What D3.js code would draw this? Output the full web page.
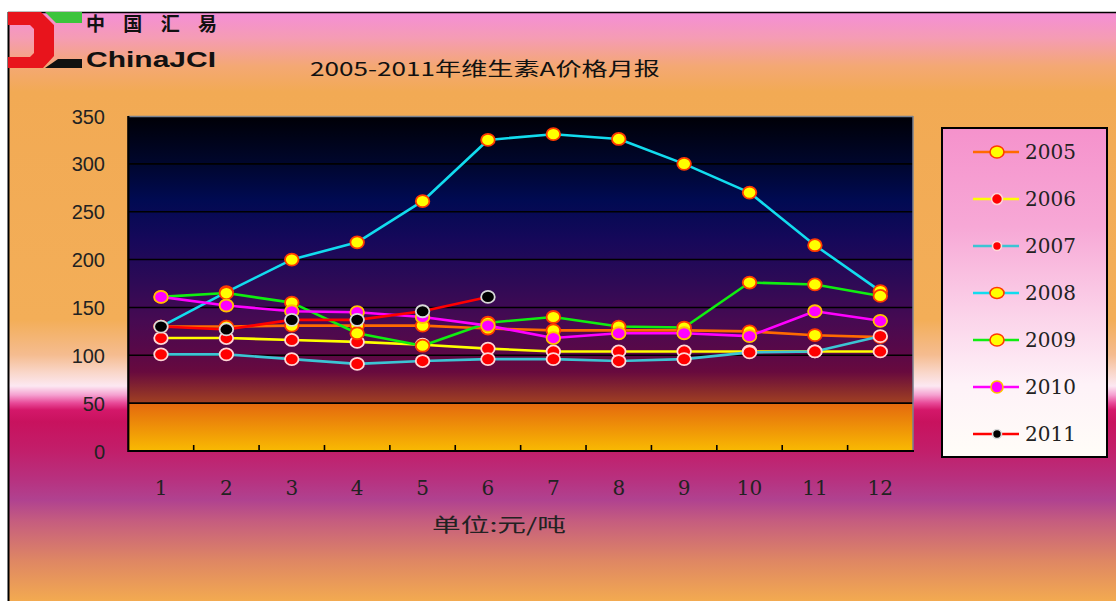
<!DOCTYPE html>
<html>
<head>
<meta charset="utf-8">
<script src="https://cdn.jsdelivr.net/npm/d3@7"></script>
<style>
  html, body { margin: 0; padding: 0; background: #fff; overflow: hidden; }
  svg { display: block; }
</style>
</head>
<body>
<svg id="chart" width="1116" height="601"></svg>
<script>
// Months on the x axis and value ticks on the y axis
const months = [1, 2, 3, 4, 5, 6, 7, 8, 9, 10, 11, 12];
const yTicks = [0, 50, 100, 150, 200, 250, 300, 350];
const years = ["2005", "2006", "2007", "2008", "2009", "2010", "2011"];

// Monthly vitamin A prices (元/吨 as labelled), one array per year
const price2005 = [130, 130, 131, 131, 131, 128, 126, 126, 126, 125, 121, 119];
const price2006 = [118, 118, 116, 114, 111, 107, 104, 104, 104, 104, 104, 104];
const price2007 = [101, 101, 96, 91, 94, 96, 96, 94, 96, 103, 104, 120];
const price2008 = [130, 166, 200, 218, 261, 325, 331, 326, 300, 270, 215, 167];
const price2009 = [161, 165, 155, 123, 110, 134, 140, 130, 129, 176, 174, 162];
const price2010 = [161, 152, 146, 145, 140, 131, 118, 123, 123, 120, 146, 136];
const price2011 = [130, 127, 137, 137, 146, 161];

const titleText = "2005-2011年维生素A价格月报";
const unitText = "单位:元/吨";

const seriesValues = [price2005, price2006, price2007, price2008, price2009, price2010, price2011];

// Line / marker styling per year
const styles = {
  "2005": { line: "#ff6a00", fill: "#ffff00", ring: "#ff3a00", lrx: 7, lry: 6 },
  "2006": { line: "#ffff00", fill: "#ff0000", ring: "#ffd6d6", lrx: 5.5, lry: 5.5 },
  "2007": { line: "#3cc4d4", fill: "#ff0000", ring: "#ffd6d6", lrx: 4.5, lry: 4.5 },
  "2008": { line: "#12dcee", fill: "#ffff00", ring: "#ff3a00", lrx: 7, lry: 5.5 },
  "2009": { line: "#10ee10", fill: "#ffff00", ring: "#ff3a00", lrx: 7, lry: 6 },
  "2010": { line: "#ff00ff", fill: "#ff00ff", ring: "#ffc000", lrx: 6, lry: 6 },
  "2011": { line: "#ff0000", fill: "#000000", ring: "#d8d8d8", lrx: 4.5, lry: 4.5 }
};

const series = years.map((yr, i) => ({
  year: yr,
  points: seriesValues[i].map((v, j) => ({ month: months[j], value: v }))
}));

const W = 1116, H = 601;
const plot = { left: 128.3, right: 913, top: 116, bottom: 451 };

const svg = d3.select("#chart");
const defs = svg.append("defs");

function vGradient(id, y1, y2, stops) {
  const g = defs.append("linearGradient")
    .attr("id", id).attr("gradientUnits", "userSpaceOnUse")
    .attr("x1", 0).attr("x2", 0).attr("y1", y1).attr("y2", y2);
  stops.forEach(([o, c]) => g.append("stop").attr("offset", o).attr("stop-color", c));
}

// Page background
const pageStops = [
  [12, "#f48ed8"], [38, "#f59cb4"], [66, "#f4a874"], [92, "#f2aa54"],
  [320, "#f3ae58"], [355, "#f5bc90"], [372, "#f9d6c8"], [386, "#fce8f2"],
  [395, "#f5a0d0"], [403, "#e84a98"], [410, "#d4186a"], [422, "#c8125e"],
  [450, "#c21e6a"], [478, "#b8307e"], [500, "#b04290"], [522, "#c65e7e"],
  [560, "#de8664"], [601, "#f3aa50"]
].map(([y, c]) => [(y - 12) / (601 - 12), c]);
vGradient("pageGrad", 12, 601, pageStops);

// Plot area background
const plotStops = [
  [116, "#000006"], [160, "#00062a"], [200, "#000a52"], [240, "#16085a"],
  [280, "#2c0a56"], [320, "#460a52"], [350, "#580848"], [372, "#680a3e"],
  [390, "#882a2c"], [403, "#a04022"], [403.01, "#e4680e"], [451, "#f9ba02"]
].map(([y, c]) => [(y - 116) / (451 - 116), c]);
vGradient("plotGrad", 116, 451, plotStops);

// Legend background
vGradient("legendGrad", 128, 457, [
  [0, "#f592cc"], [0.3, "#f7a8d6"], [0.55, "#fbd0e8"], [0.78, "#fef2f8"], [1, "#fffdf8"]
]);

svg.append("rect").attr("width", W).attr("height", H).attr("fill", "#ffffff");
svg.append("rect").attr("x", 8).attr("y", 12).attr("width", W - 8).attr("height", H - 12)
  .attr("fill", "url(#pageGrad)");
svg.append("line").attr("x1", 8.5).attr("x2", 8.5).attr("y1", 12).attr("y2", H)
  .attr("stroke", "#000").attr("stroke-width", 2);
svg.append("line").attr("x1", 8).attr("x2", W).attr("y1", 12.5).attr("y2", 12.5)
  .attr("stroke", "#000").attr("stroke-width", 1.5);

// Logo
const logo = svg.append("g");
logo.append("path")
  .attr("d", "M8,12 L41,12 L54,25 L54,56 L43,68 L8,68 Z M8,25 L30,25 L34,29 L34,53 L30,57 L8,57 Z")
  .attr("fill", "#e8141c").attr("fill-rule", "evenodd");
logo.append("path").attr("d", "M45,12 L82,12 L82,23 L56,23 Z").attr("fill", "#3cc43c");
logo.append("path").attr("d", "M45,68 L58,59 L82,59 L82,68 Z").attr("fill", "#111");
logo.append("text").attr("x", 86).attr("y", 31)
  .attr("font-family", "'Noto Sans CJK SC', sans-serif").attr("font-weight", "bold")
  .attr("font-size", 19).attr("fill", "#111")
  .attr("textLength", 131).attr("lengthAdjust", "spacing")
  .text("中国汇易");
logo.append("text").attr("x", 86).attr("y", 67)
  .attr("font-family", "'Liberation Sans', Arial, sans-serif").attr("font-weight", "bold")
  .attr("font-size", 22).attr("fill", "#111")
  .attr("textLength", 130).attr("lengthAdjust", "spacingAndGlyphs")
  .text("ChinaJCI");

// Title
svg.append("text").attr("x", 310).attr("y", 76)
  .attr("font-family", "'Noto Sans CJK SC', sans-serif")
  .attr("font-size", 19).attr("fill", "#111")
  .attr("textLength", 350).attr("lengthAdjust", "spacingAndGlyphs")
  .text(titleText);

// Scales
const x = d3.scaleBand().domain(months).range([plot.left, plot.right]).paddingInner(0).paddingOuter(0);
const cx = m => x(m) + x.bandwidth() / 2;
const y = d3.scaleLinear().domain([0, 350]).range([plot.bottom, plot.top]);

// Plot area
svg.append("rect").attr("x", plot.left).attr("y", plot.top)
  .attr("width", plot.right - plot.left).attr("height", plot.bottom - plot.top)
  .attr("fill", "url(#plotGrad)");

// Gridlines
svg.append("g").selectAll("line")
  .data(yTicks.filter(t => t > 0 && t < 350))
  .join("line")
  .attr("x1", plot.left).attr("x2", plot.right)
  .attr("y1", d => y(d)).attr("y2", d => y(d))
  .attr("stroke", "#000").attr("stroke-width", 1.6);

// Plot frame: grey top/right, black left/bottom
svg.append("line").attr("x1", plot.left).attr("x2", plot.right).attr("y1", plot.top + 0.5).attr("y2", plot.top + 0.5)
  .attr("stroke", "#7a8290").attr("stroke-width", 1.5);
svg.append("line").attr("x1", plot.right).attr("x2", plot.right).attr("y1", plot.top).attr("y2", plot.bottom)
  .attr("stroke", "#7a8290").attr("stroke-width", 1.5);
svg.append("line").attr("x1", plot.left).attr("x2", plot.left).attr("y1", plot.top).attr("y2", plot.bottom + 1)
  .attr("stroke", "#000").attr("stroke-width", 2.2);
svg.append("line").attr("x1", plot.left).attr("x2", plot.right + 1).attr("y1", plot.bottom).attr("y2", plot.bottom)
  .attr("stroke", "#000").attr("stroke-width", 2.2);

// Inward tick marks at month boundaries
svg.append("g").selectAll("line")
  .data(months.slice(1))
  .join("line")
  .attr("x1", d => x(d)).attr("x2", d => x(d))
  .attr("y1", plot.bottom - 6).attr("y2", plot.bottom)
  .attr("stroke", "#000").attr("stroke-width", 1.6);

// Y axis labels
const yAxis = svg.append("g")
  .attr("transform", `translate(105,0)`)
  .call(d3.axisLeft(y).tickValues(yTicks).tickSize(0).tickPadding(0));
yAxis.select(".domain").remove();
yAxis.selectAll("text")
  .attr("font-family", "'Liberation Sans', Arial, sans-serif")
  .attr("font-size", 20).attr("fill", "#222").attr("dy", "0.35em");

// X axis labels
const xAxis = svg.append("g")
  .attr("transform", `translate(0,${plot.bottom})`)
  .call(d3.axisBottom(x).tickSize(0).tickPadding(0));
xAxis.select(".domain").remove();
xAxis.selectAll("text")
  .attr("font-family", "'DejaVu Serif', serif")
  .attr("font-size", 20).attr("fill", "#222")
  .attr("dy", null).attr("y", 44);

// Unit label
svg.append("text").attr("x", 432).attr("y", 532)
  .attr("font-family", "'Noto Sans CJK SC', sans-serif")
  .attr("font-size", 19).attr("fill", "#222")
  .attr("textLength", 134).attr("lengthAdjust", "spacingAndGlyphs")
  .text(unitText);

// Series lines and markers
const lineGen = d3.line().x(d => cx(d.month)).y(d => y(d.value));
const seriesG = svg.append("g");
series.forEach(s => {
  const st = styles[s.year];
  const g = seriesG.append("g");
  g.append("path").datum(s.points)
    .attr("d", lineGen).attr("fill", "none")
    .attr("stroke", st.line).attr("stroke-width", 2.6).attr("stroke-linejoin", "round");
  g.selectAll("ellipse").data(s.points).join("ellipse")
    .attr("cx", d => cx(d.month)).attr("cy", d => y(d.value))
    .attr("rx", 6.8).attr("ry", 6)
    .attr("fill", st.fill).attr("stroke", st.ring).attr("stroke-width", 1.8);
});

// Legend
const legend = svg.append("g");
legend.append("rect").attr("x", 942).attr("y", 128).attr("width", 165).attr("height", 329)
  .attr("fill", "url(#legendGrad)").attr("stroke", "#000").attr("stroke-width", 2);
const legendY = d3.scalePoint().domain(years).range([152, 434]);
const items = legend.selectAll("g.item").data(years).join("g")
  .attr("class", "item")
  .attr("transform", d => `translate(0,${legendY(d)})`);
items.append("line").attr("x1", 973).attr("x2", 1019).attr("y1", 0).attr("y2", 0)
  .attr("stroke", d => styles[d].line).attr("stroke-width", 2.6);
items.append("ellipse").attr("cx", 997).attr("cy", 0)
  .attr("rx", d => styles[d].lrx).attr("ry", d => styles[d].lry)
  .attr("fill", d => styles[d].fill).attr("stroke", d => styles[d].ring).attr("stroke-width", 1.6);
items.append("text").attr("x", 1025).attr("y", 0).attr("dy", "0.36em")
  .attr("font-family", "'DejaVu Serif', serif")
  .attr("font-size", 20).attr("fill", "#222")
  .text(d => d);
</script>
</body>
</html>
